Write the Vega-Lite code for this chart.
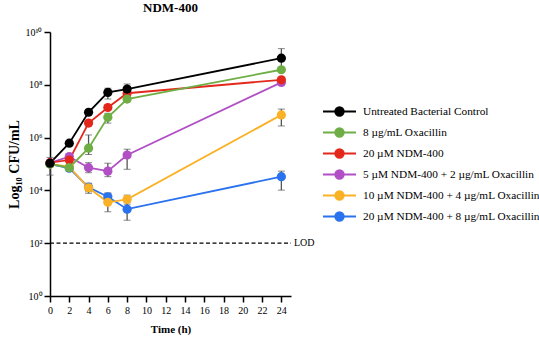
{
  "$schema": "https://vega.github.io/schema/vega-lite/v6.json",
  "width": 241,
  "height": 264,
  "autosize": {"type": "none"},
  "padding": {"left": 50, "top": 32, "right": 248, "bottom": 44},
  "background": "white",
  "title": {"text": "NDM-400", "font": "Liberation Serif", "fontSize": 13, "fontWeight": "bold", "color": "black", "anchor": "middle", "offset": 12},
  "config": {
    "view": {"stroke": null},
    "font": "Liberation Serif",
    "axis": {"grid": false, "domainColor": "black", "tickColor": "black", "domainWidth": 1.5, "tickWidth": 1.5, "labelColor": "black", "titleColor": "black", "labelFont": "Liberation Serif", "titleFont": "Liberation Serif", "labelFontSize": 10, "titleFontWeight": "bold", "labelOverlap": false}
  },
  "datasets": {
    "obs": [
      {"series": "20 µM NDM-400 + 8 µg/mL Oxacillin", "t": 0, "v": 5.0},
      {"series": "20 µM NDM-400 + 8 µg/mL Oxacillin", "t": 2, "v": 4.84},
      {"series": "20 µM NDM-400 + 8 µg/mL Oxacillin", "t": 4, "v": 4.12},
      {"series": "20 µM NDM-400 + 8 µg/mL Oxacillin", "t": 6, "v": 3.76},
      {"series": "20 µM NDM-400 + 8 µg/mL Oxacillin", "t": 8, "v": 3.29},
      {"series": "20 µM NDM-400 + 8 µg/mL Oxacillin", "t": 24, "v": 4.52},
      {"series": "10 µM NDM-400 + 4 µg/mL Oxacillin", "t": 0, "v": 5.0},
      {"series": "10 µM NDM-400 + 4 µg/mL Oxacillin", "t": 2, "v": 4.89},
      {"series": "10 µM NDM-400 + 4 µg/mL Oxacillin", "t": 4, "v": 4.1},
      {"series": "10 µM NDM-400 + 4 µg/mL Oxacillin", "t": 6, "v": 3.55},
      {"series": "10 µM NDM-400 + 4 µg/mL Oxacillin", "t": 8, "v": 3.66},
      {"series": "10 µM NDM-400 + 4 µg/mL Oxacillin", "t": 24, "v": 6.86},
      {"series": "5 µM NDM-400 + 2 µg/mL Oxacillin", "t": 0, "v": 5.04},
      {"series": "5 µM NDM-400 + 2 µg/mL Oxacillin", "t": 2, "v": 5.28},
      {"series": "5 µM NDM-400 + 2 µg/mL Oxacillin", "t": 4, "v": 4.86},
      {"series": "5 µM NDM-400 + 2 µg/mL Oxacillin", "t": 6, "v": 4.73},
      {"series": "5 µM NDM-400 + 2 µg/mL Oxacillin", "t": 8, "v": 5.34},
      {"series": "5 µM NDM-400 + 2 µg/mL Oxacillin", "t": 24, "v": 8.09},
      {"series": "20 µM NDM-400", "t": 0, "v": 5.05},
      {"series": "20 µM NDM-400", "t": 2, "v": 5.15},
      {"series": "20 µM NDM-400", "t": 4, "v": 6.55},
      {"series": "20 µM NDM-400", "t": 6, "v": 7.14},
      {"series": "20 µM NDM-400", "t": 8, "v": 7.68},
      {"series": "20 µM NDM-400", "t": 24, "v": 8.19},
      {"series": "8 µg/mL Oxacillin", "t": 0, "v": 5.0},
      {"series": "8 µg/mL Oxacillin", "t": 2, "v": 4.86},
      {"series": "8 µg/mL Oxacillin", "t": 4, "v": 5.6},
      {"series": "8 µg/mL Oxacillin", "t": 6, "v": 6.77},
      {"series": "8 µg/mL Oxacillin", "t": 8, "v": 7.46},
      {"series": "8 µg/mL Oxacillin", "t": 24, "v": 8.57},
      {"series": "Untreated Bacterial Control", "t": 0, "v": 5.03},
      {"series": "Untreated Bacterial Control", "t": 2, "v": 5.79},
      {"series": "Untreated Bacterial Control", "t": 4, "v": 6.96},
      {"series": "Untreated Bacterial Control", "t": 6, "v": 7.71},
      {"series": "Untreated Bacterial Control", "t": 8, "v": 7.84},
      {"series": "Untreated Bacterial Control", "t": 24, "v": 9.01}
    ],
    "err": [
      {"t": 0, "lo": 4.58, "hi": 5.25},
      {"t": 2, "lo": 5.7, "hi": 5.86},
      {"t": 4, "lo": 6.88, "hi": 7.03},
      {"t": 6, "lo": 7.46, "hi": 7.87},
      {"t": 8, "lo": 7.68, "hi": 8.03},
      {"t": 24, "lo": 8.62, "hi": 9.37},
      {"t": 2, "lo": 4.72, "hi": 4.98},
      {"t": 4, "lo": 5.36, "hi": 6.1},
      {"t": 6, "lo": 6.55, "hi": 6.92},
      {"t": 8, "lo": 7.38, "hi": 7.54},
      {"t": 24, "lo": 8.5, "hi": 8.64},
      {"t": 4, "lo": 6.45, "hi": 6.65},
      {"t": 6, "lo": 7.05, "hi": 7.22},
      {"t": 2, "lo": 5.1, "hi": 5.38},
      {"t": 4, "lo": 4.67, "hi": 5.05},
      {"t": 6, "lo": 4.52, "hi": 5.03},
      {"t": 8, "lo": 4.8, "hi": 5.56},
      {"t": 24, "lo": 8.0, "hi": 8.15},
      {"t": 4, "lo": 3.89, "hi": 4.27},
      {"t": 6, "lo": 3.19, "hi": 3.89},
      {"t": 8, "lo": 3.48, "hi": 3.82},
      {"t": 24, "lo": 6.44, "hi": 7.08},
      {"t": 4, "lo": 3.95, "hi": 4.25},
      {"t": 6, "lo": 3.62, "hi": 3.9},
      {"t": 8, "lo": 2.87, "hi": 3.56},
      {"t": 24, "lo": 4.01, "hi": 4.73}
    ],
    "lod": [{"x0": 0, "x1": 25, "y": 2, "label": "LOD"}]
  },
  "layer": [
    {
      "data": {"name": "err"},
      "mark": {"type": "errorbar", "ticks": {"size": 7, "color": "#555555", "strokeWidth": 1.3}, "rule": {"color": "#555555", "strokeWidth": 1.3}},
      "encoding": {
        "x": {"field": "t", "type": "quantitative", "title": "Time (h)", "scale": {"domain": [0, 25], "nice": false, "zero": false}},
        "y": {"field": "lo", "type": "quantitative", "title": "Log₁₀ CFU/mL", "scale": {"domain": [0, 10], "nice": false, "zero": false}},
        "y2": {"field": "hi"}
      }
    },
    {
      "data": {"name": "obs"},
      "mark": {"type": "line", "strokeWidth": 1.8},
      "encoding": {
        "x": {"field": "t", "type": "quantitative", "title": "Time (h)",
              "axis": {"values": [0, 2, 4, 6, 8, 10, 12, 14, 16, 18, 20, 22, 24], "tickCount": 20, "tickSize": 6, "labelPadding": 3, "titleFontSize": 11, "titlePadding": 8, "labelFlush": false, "labelOverlap": false}},
        "y": {"field": "v", "type": "quantitative", "title": "Log₁₀ CFU/mL",
              "axis": {"values": [0, 2, 4, 6, 8, 10], "tickCount": 20, "tickSize": 6, "labelPadding": 2, "labelFlush": false, "labelOverlap": false,
                       "labelExpr": "datum.value == 10 ? '10¹⁰' : datum.value == 8 ? '10⁸' : datum.value == 6 ? '10⁶' : datum.value == 4 ? '10⁴' : datum.value == 2 ? '10²' : '10⁰'",
                       "titleFontSize": 14, "titleX": -36, "titleY": 132, "titleAlign": "center", "titleBaseline": "middle", "titleAngle": -90}},
        "color": {"field": "series", "type": "nominal",
                  "scale": {"domain": ["Untreated Bacterial Control", "8 µg/mL Oxacillin", "20 µM NDM-400", "5 µM NDM-400 + 2 µg/mL Oxacillin", "10 µM NDM-400 + 4 µg/mL Oxacillin", "20 µM NDM-400 + 8 µg/mL Oxacillin"],
                            "range": ["#000000", "#6fae45", "#e3281b", "#b14fc5", "#fbb125", "#2a72ee"]},
                  "legend": {"title": null, "orient": "none", "legendX": 281.5, "legendY": 71.5, "padding": 0,
                             "symbolType": "M-2.36,0L2.36,0M-0.6,0A0.6,0.6,0,1,1,0.6,0A0.6,0.6,0,1,1,-0.6,0Z",
                             "symbolSize": 196, "symbolStrokeWidth": 2, "labelFont": "Liberation Serif", "labelFontSize": 11.3, "labelColor": "black", "labelOffset": 15.5, "rowPadding": 3, "labelLimit": 300,
                             "encode": {"symbols": {"update": {"fill": {"scale": "color", "field": "value"}, "stroke": {"scale": "color", "field": "value"}, "strokeWidth": {"value": 2}, "opacity": {"value": 1}}}}}}
      }
    },
    {
      "data": {"name": "obs"},
      "mark": {"type": "point", "filled": true, "shape": "circle", "size": 85, "opacity": 1},
      "encoding": {
        "x": {"field": "t", "type": "quantitative", "title": "Time (h)"},
        "y": {"field": "v", "type": "quantitative", "title": "Log₁₀ CFU/mL"},
        "color": {"field": "series", "type": "nominal"}
      }
    },
    {
      "data": {"name": "lod"},
      "mark": {"type": "rule", "color": "black", "strokeWidth": 1.3, "strokeDash": [4, 2.5]},
      "encoding": {
        "x": {"field": "x0", "type": "quantitative", "title": "Time (h)"},
        "x2": {"field": "x1"},
        "y": {"field": "y", "type": "quantitative", "title": "Log₁₀ CFU/mL"}
      }
    },
    {
      "data": {"name": "lod"},
      "mark": {"type": "text", "align": "left", "baseline": "middle", "dx": 3, "font": "Liberation Serif", "fontSize": 10, "color": "black"},
      "encoding": {
        "x": {"field": "x1", "type": "quantitative", "title": "Time (h)"},
        "y": {"field": "y", "type": "quantitative", "title": "Log₁₀ CFU/mL"},
        "text": {"field": "label"}
      }
    }
  ]
}
